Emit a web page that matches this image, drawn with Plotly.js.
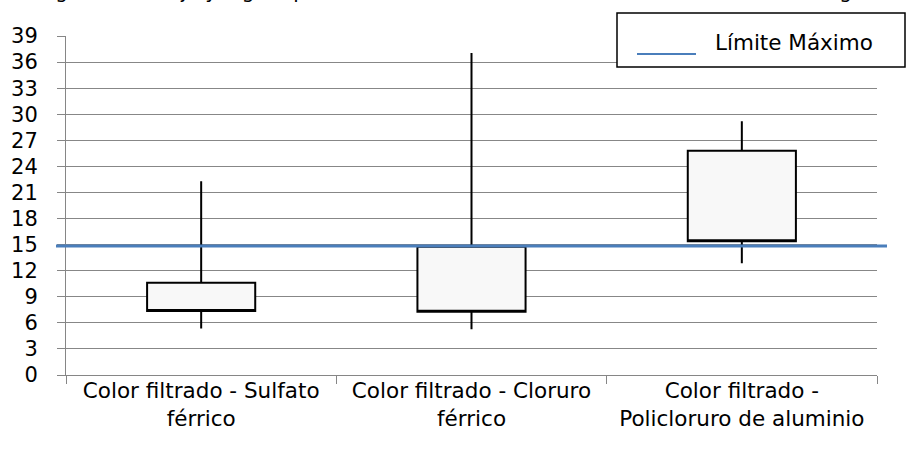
<!DOCTYPE html>
<html><head><meta charset="utf-8">
<script src="https://cdn.plot.ly/plotly-3.0.1.min.js"></script>
<style>html,body{margin:0;padding:0;background:#fff}#chart{width:906px;height:452px}</style>
</head><body><div id="chart"></div>
<script>
const categories = ["Color filtrado - Sulfato férrico", "Color filtrado - Cloruro férrico", "Color filtrado - Policloruro de aluminio"];
const tickLabels = ["Color filtrado - Sulfato<br>férrico", "Color filtrado - Cloruro<br>férrico", "Color filtrado -<br>Policloruro de aluminio"];
const minimo = [5.35, 5.25, 12.85];
const cuartil1 = [7.35, 7.28, 15.4];
const cuartil3 = [10.6, 14.75, 25.8];
const maximo = [22.3, 37.05, 29.2];
const limiteMaximo = 14.85;
const yTickVals = [0, 3, 6, 9, 12, 15, 18, 21, 24, 27, 30, 33, 36, 39];
const titulo = "Diagrama de caja y bigote para el color filtrado obtenido con cada uno de los coagulantes";
const leyenda = "Límite Máximo";

const FONT = "DejaVu Sans";
const W = 906, H = 452, L = 66, R = 29, T = 36, B = 77;
const pw = W - L - R, ph = H - T - B;
const px = v => (v - L) / pw;
const py = v => (H - B - v) / ph;

const trace = {
  type: "box",
  x: categories,
  q1: cuartil1,
  median: cuartil1,
  q3: cuartil3,
  lowerfence: minimo,
  upperfence: maximo,
  width: 0.4,
  whiskerwidth: 0,
  fillcolor: "#f8f8f8",
  line: {color: "#000000", width: 2},
  boxpoints: false,
  hoverinfo: "skip",
  showlegend: false
};

const layout = {
  width: W, height: H,
  margin: {l: L, r: R, t: T, b: B, pad: 0},
  paper_bgcolor: "#ffffff",
  plot_bgcolor: "#ffffff",
  showlegend: false,
  xaxis: {
    type: "category",
    range: [-0.5, 2.5],
    tickvals: categories,
    ticktext: tickLabels,
    tickson: "boundaries",
    ticks: "outside", ticklen: 8, tickcolor: "#868686", tickwidth: 1,
    showline: true, linecolor: "#868686", linewidth: 1,
    showgrid: false, zeroline: false,
    ticklabelstandoff: -4,
    tickfont: {family: FONT, size: 21.5, color: "#000"},
    fixedrange: true
  },
  yaxis: {
    range: [0, 39],
    tickvals: yTickVals,
    ticks: "outside", ticklen: 8, tickcolor: "#868686", tickwidth: 1,
    showline: true, linecolor: "#868686", linewidth: 1,
    showgrid: true, gridcolor: "#878787", gridwidth: 1,
    zeroline: false,
    ticklabelstandoff: 15,
    tickfont: {family: FONT, size: 21, color: "#000"},
    fixedrange: true
  },
  shapes: [
    {type: "line", xref: "paper", yref: "y", x0: px(56), x1: px(887), y0: limiteMaximo, y1: limiteMaximo,
     line: {color: "#4a7ebb", width: 3}, layer: "above"},
    {type: "rect", xref: "paper", yref: "paper", x0: px(617), x1: px(905), y0: py(67), y1: py(13),
     line: {color: "#000", width: 1.5}, fillcolor: "#ffffff", layer: "above"},
    {type: "line", xref: "paper", yref: "paper", x0: px(637), x1: px(696), y0: py(54), y1: py(54),
     line: {color: "#4a7ebb", width: 2}, layer: "above"}
  ],
  annotations: [
    {text: leyenda, xref: "paper", yref: "paper", x: px(713), y: py(43), xanchor: "left", yanchor: "middle",
     showarrow: false, font: {family: FONT, size: 21.5, color: "#000"}},
    {text: titulo, xref: "paper", yref: "paper", x: px(20), y: py(5), xanchor: "left", yanchor: "bottom",
     showarrow: false, font: {family: FONT, size: 20, color: "#000"}}
  ]
};

Plotly.newPlot("chart", [trace], layout, {staticPlot: true, displayModeBar: false});
</script>
</body></html>
